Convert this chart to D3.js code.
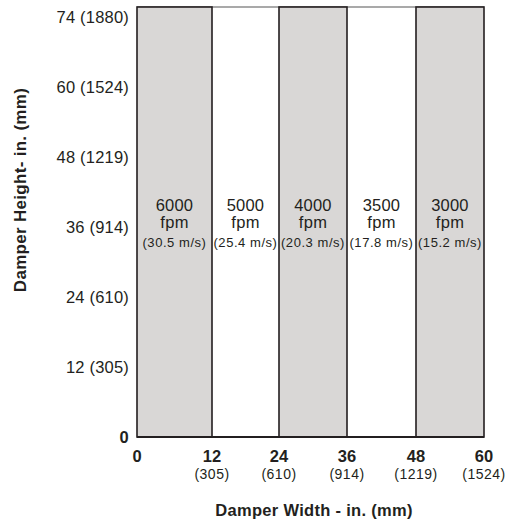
<!DOCTYPE html>
<html>
<head>
<meta charset="utf-8">
<script src="https://cdn.jsdelivr.net/npm/d3@7/dist/d3.min.js"></script>
<style>
  html, body { margin: 0; padding: 0; background: #fff; }
  svg { display: block; font-family: "Liberation Sans", Arial, Helvetica, sans-serif; }
</style>
</head>
<body>
<svg id="chart" width="510" height="527"></svg>
<script>
// ---- data ----
const widthTicksIn = [0, 12, 24, 36, 48, 60];
const widthTicksMm = ["", "(305)", "(610)", "(914)", "(1219)", "(1524)"];
const heightTicksIn = [0, 12, 24, 36, 48, 60, 74];
const heightTicksMm = ["", "(305)", "(610)", "(914)", "(1219)", "(1524)", "(1880)"];
const frameTopIn = 76;
const velocityFpm = ["6000", "5000", "4000", "3500", "3000"];
const velocityMs = ["(30.5 m/s)", "(25.4 m/s)", "(20.3 m/s)", "(17.8 m/s)", "(15.2 m/s)"];
const bandShaded = [true, false, true, false, true];
const xTitle = "Damper Width - in. (mm)";
const yTitle = "Damper Height- in. (mm)";

// ---- layout ----
const svg = d3.select("#chart");
const plotLeft = 137, plotRight = 484, plotBottom = 437, plotTop = 17;
const ink = "#231f20";

const x = d3.scaleLinear()
  .domain(widthTicksIn)
  .range([plotLeft, 212, 279, 347, 416, plotRight]);

const yStep = (plotBottom - plotTop) / (heightTicksIn.length - 1);
const y = d3.scaleLinear()
  .domain(heightTicksIn)
  .range(heightTicksIn.map((d, i) => plotBottom - i * yStep));

const bands = velocityFpm.map((v, i) => ({
  x0: widthTicksIn[i], x1: widthTicksIn[i + 1],
  fpm: v, ms: velocityMs[i], shaded: bandShaded[i]
}));

// top frame line
svg.append("line")
  .attr("x1", x(0)).attr("x2", x(60))
  .attr("y1", y(frameTopIn)).attr("y2", y(frameTopIn))
  .attr("stroke", "#555").attr("stroke-width", 1.2);

// shaded bands
svg.append("g").selectAll("rect")
  .data(bands.filter(d => d.shaded))
  .join("rect")
  .attr("x", d => x(d.x0))
  .attr("y", y(frameTopIn))
  .attr("width", d => x(d.x1) - x(d.x0))
  .attr("height", y(0) - y(frameTopIn))
  .attr("fill", "#d9d7d6")
  .attr("stroke", ink)
  .attr("stroke-width", 1.6);

// bottom axis line
svg.append("line")
  .attr("x1", x(0)).attr("x2", x(60))
  .attr("y1", y(0)).attr("y2", y(0))
  .attr("stroke", ink).attr("stroke-width", 1.8);

// band labels
const lab = svg.append("g").attr("fill", ink).attr("text-anchor", "middle");
bands.forEach(d => {
  const cx = (x(d.x0) + x(d.x1)) / 2;
  lab.append("text").attr("x", cx).attr("y", y(36) - 16)
    .attr("font-size", 16.5).attr("letter-spacing", 0.2).text(d.fpm);
  lab.append("text").attr("x", cx).attr("y", y(36) + 0.5)
    .attr("font-size", 16.5).attr("letter-spacing", 0.3).text("fpm");
  lab.append("text").attr("x", cx).attr("y", y(36) + 20)
    .attr("font-size", 13).attr("letter-spacing", 0.55).text(d.ms);
});

// y tick labels
svg.append("g").selectAll("text")
  .data(heightTicksIn)
  .join("text")
  .attr("x", 129)
  .attr("y", d => y(d))
  .attr("dy", "0.36em")
  .attr("text-anchor", "end")
  .attr("font-size", 16.5)
  .attr("letter-spacing", 0.2)
  .attr("font-weight", (d, i) => i === 0 ? "bold" : "normal")
  .attr("fill", ink)
  .text((d, i) => heightTicksMm[i] ? `${d} ${heightTicksMm[i]}` : `${d}`);

// x tick labels
const xt = svg.append("g").attr("text-anchor", "middle").attr("fill", ink);
xt.selectAll("text.main")
  .data(widthTicksIn)
  .join("text").attr("class", "main")
  .attr("x", d => x(d)).attr("y", 461.5)
  .attr("font-size", 16.5).attr("font-weight", "bold")
  .text(d => d);
xt.selectAll("text.mm")
  .data(widthTicksIn)
  .join("text").attr("class", "mm")
  .attr("x", d => x(d)).attr("y", 479)
  .attr("font-size", 14).attr("letter-spacing", 0.5)
  .text((d, i) => widthTicksMm[i]);

// axis titles
svg.append("text")
  .attr("x", 314).attr("y", 516)
  .attr("text-anchor", "middle").attr("font-size", 16.5).attr("font-weight", "bold")
  .attr("letter-spacing", 0.3)
  .attr("fill", ink).text(xTitle);

svg.append("text")
  .attr("transform", "translate(26,190) rotate(-90)")
  .attr("text-anchor", "middle").attr("font-size", 17).attr("font-weight", "bold")
  .attr("letter-spacing", 0.3)
  .attr("fill", ink).text(yTitle);
</script>
</body>
</html>
